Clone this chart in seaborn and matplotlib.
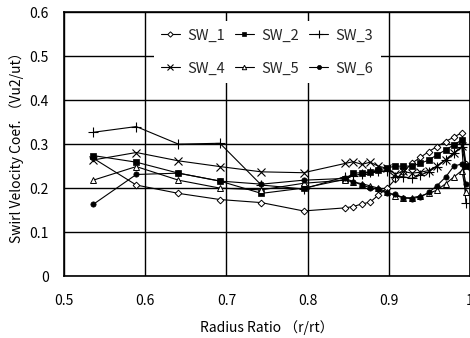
import matplotlib
matplotlib.use("Agg")
import matplotlib.pyplot as plt
import matplotlib.ticker as mticker
import pandas as pd
import seaborn as sns

# Measurement radii (r/rt) and swirl velocity coefficients per case
radius = [0.536, 0.589, 0.641, 0.692, 0.743, 0.795,
          0.846, 0.856, 0.867, 0.877, 0.887, 0.898, 0.908, 0.918,
          0.928, 0.939, 0.949, 0.959, 0.970, 0.980, 0.990, 0.995]

sw_1 = [0.268, 0.207, 0.188, 0.174, 0.167, 0.148, 0.155, 0.158, 0.164, 0.168, 0.184,
        0.200, 0.220, 0.236, 0.256, 0.270, 0.283, 0.294, 0.306, 0.316, 0.326, 0.255]
sw_2 = [0.274, 0.259, 0.234, 0.216, 0.188, 0.200, 0.220, 0.234, 0.235, 0.237, 0.241,
        0.246, 0.250, 0.250, 0.250, 0.256, 0.264, 0.275, 0.287, 0.298, 0.310, 0.250]
sw_3 = [0.327, 0.340, 0.300, 0.302, 0.207, 0.198, 0.226, 0.228, 0.232, 0.236, 0.238,
        0.240, 0.226, 0.226, 0.222, 0.230, 0.237, 0.249, 0.264, 0.279, 0.294, 0.165]
sw_4 = [0.264, 0.281, 0.262, 0.249, 0.237, 0.235, 0.256, 0.260, 0.254, 0.259, 0.250,
        0.245, 0.232, 0.238, 0.234, 0.236, 0.240, 0.250, 0.265, 0.280, 0.295, 0.248]
sw_5 = [0.218, 0.249, 0.218, 0.200, 0.196, 0.211, 0.218, 0.214, 0.210, 0.205, 0.200,
        0.190, 0.183, 0.178, 0.178, 0.182, 0.188, 0.195, 0.210, 0.225, 0.240, 0.190]
sw_6 = [0.163, 0.231, 0.234, 0.216, 0.209, 0.218, 0.222, 0.215, 0.207, 0.201, 0.197,
        0.188, 0.186, 0.178, 0.176, 0.180, 0.190, 0.205, 0.225, 0.250, 0.255, 0.210]

series_names = ["SW_1", "SW_2", "SW_3", "SW_4", "SW_5", "SW_6"]
series_values = [sw_1, sw_2, sw_3, sw_4, sw_5, sw_6]

x_ticks = [0.5, 0.6, 0.7, 0.8, 0.9, 1.0]
y_ticks = [0.0, 0.1, 0.2, 0.3, 0.4, 0.5, 0.6]

df = pd.concat(
    [pd.DataFrame({"r": radius, "v": vals, "case": name})
     for name, vals in zip(series_names, series_values)],
    ignore_index=True,
)

sns.set_theme(style="white")
plt.rcParams["font.family"] = ["Noto Sans CJK JP", "DejaVu Sans"]

marker_styles = {
    "SW_1": dict(marker="D", markersize=3.4, markerfacecolor="white", markeredgewidth=0.7),
    "SW_2": dict(marker="s", markersize=3.8, markerfacecolor="black", markeredgewidth=0.5),
    "SW_3": dict(marker="+", markersize=7.0, markeredgewidth=0.8),
    "SW_4": dict(marker="x", markersize=5.5, markeredgewidth=0.8),
    "SW_5": dict(marker="^", markersize=4.0, markerfacecolor="white", markeredgewidth=0.7),
    "SW_6": dict(marker="o", markersize=3.8, markerfacecolor="black", markeredgewidth=0.5),
}

fig = plt.figure(figsize=(4.7, 3.38), dpi=100)
ax = fig.add_axes([64 / 470, 1 - 276 / 338, 1 - 64 / 470, (276 - 12.3) / 338])

for name in series_names:
    sub = df[df["case"] == name]
    sns.lineplot(data=sub, x="r", y="v", ax=ax, color="black", linewidth=0.8,
                 markeredgecolor="black", label=name, sort=False,
                 **marker_styles[name])

ax.set_xlim(0.5, 1.0)
ax.set_ylim(0.0, 0.6)
ax.set_xticks(x_ticks)
ax.set_yticks(y_ticks)
ax.xaxis.set_major_formatter(mticker.FuncFormatter(lambda v, p: f"{v:g}"))
ax.yaxis.set_major_formatter(mticker.FuncFormatter(lambda v, p: f"{v:g}"))
ax.tick_params(axis="x", length=0, labelsize=10, colors="black", pad=13)
ax.tick_params(axis="y", length=0, labelsize=10, colors="black", pad=11)
ax.grid(True, color="black", linewidth=1.0)
ax.set_axisbelow(True)
for s in ax.spines.values():
    s.set_color("black")
    s.set_linewidth(1.2)

ax.set_xlabel("Radius Ratio （r/rt）", fontsize=10, color="black", labelpad=9)
ax.set_ylabel("Swirl Velocity Coef. （Vu2/ut）", fontsize=10, color="black", labelpad=4)

# Legend filled row by row: SW_1 SW_2 SW_3 / SW_4 SW_5 SW_6
handles, labels = ax.get_legend_handles_labels()
order = [0, 3, 1, 4, 2, 5]
leg = ax.legend([handles[i] for i in order], [labels[i] for i in order],
                loc="center", bbox_to_anchor=(267 / 470, 1 - 52 / 338),
                bbox_transform=fig.transFigure, ncol=3, frameon=True,
                fancybox=False, edgecolor="none", facecolor="white", framealpha=1,
                fontsize=10.5, handlelength=1.3, handletextpad=0.5, markerscale=0.8,
                columnspacing=0.7, labelspacing=1.3, borderpad=0.5)

fig.savefig("out.png", dpi=100, facecolor="white")
